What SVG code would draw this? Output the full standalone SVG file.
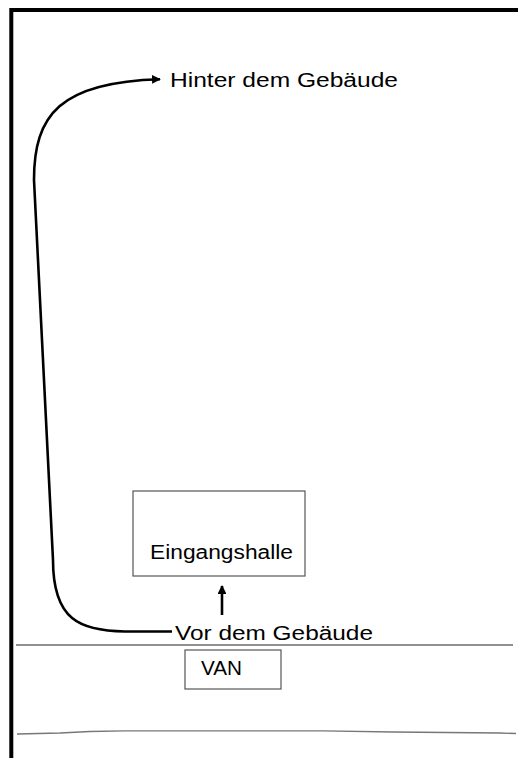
<svg xmlns="http://www.w3.org/2000/svg" width="518" height="758" viewBox="0 0 518 758">
<style>
text{font-family:"Liberation Sans",Arial,sans-serif;font-size:20px;fill:#000}
.box{fill:#fff;stroke:#555;stroke-width:1.2}
.conn{fill:none;stroke:#000;stroke-width:2.6}
</style>
<defs>
<marker id="ah" viewBox="0 0 10 10" refX="9" refY="5" markerWidth="3.6" markerHeight="3.4" orient="auto" markerUnits="strokeWidth">
<path d="M0,0 L10,5 L0,10 z" fill="#000"/>
</marker>
</defs>
<rect width="518" height="758" fill="#fff"/>
<path d="M11.3,758 V10 H518" fill="none" stroke="#000" stroke-width="4"/>
<line x1="16" y1="645" x2="513" y2="645" stroke="#222" stroke-width="1.2"/>
<path d="M17,734 L60,733 L90,731.5 L125,730.8 L323,730.8 L393,732 L500,733 L516,733.5" fill="none" stroke="#777" stroke-width="1.3"/>
<g id="connectors">
<path class="conn" d="M172,631.5 H125 C80,631 53,620 53,560 L34,180 C34,115 60,82 160,79.2" marker-end="url(#ah)"/>
<path class="conn" d="M222,615 V586" marker-end="url(#ah)"/>
</g>
<g id="hinter"><text x="170" y="87" textLength="228" lengthAdjust="spacingAndGlyphs">Hinter dem Gebäude</text></g>
<g id="eingangshalle"><rect class="box" x="133" y="491" width="172" height="85"/><text x="150" y="559" textLength="143" lengthAdjust="spacingAndGlyphs">Eingangshalle</text></g>
<g id="vor"><text x="175" y="640" textLength="198" lengthAdjust="spacingAndGlyphs">Vor dem Gebäude</text></g>
<g id="van"><rect class="box" x="185" y="650" width="96" height="39"/><text x="201" y="675" textLength="41" lengthAdjust="spacingAndGlyphs">VAN</text></g>
</svg>
